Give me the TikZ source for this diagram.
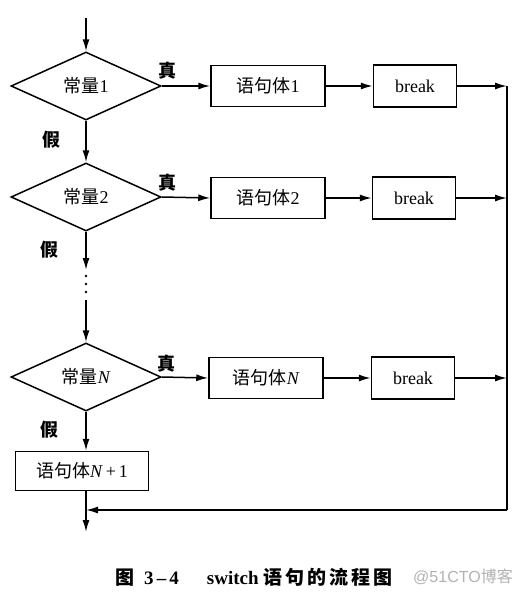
\documentclass[tikz,border=0pt]{standalone}
\usepackage{fontspec}
\setmainfont{Liberation Serif}
\newfontfamily\cjk{Noto Sans CJK SC}
\newfontfamily\wmfont{Liberation Sans}
\usetikzlibrary{shapes.geometric,arrows.meta}
\begin{document}
\begin{tikzpicture}[x=1pt,y=-1pt,
  line width=1.5pt,
  every node/.style={font=\fontsize{18}{20}\selectfont},
  dec/.style={diamond,draw,inner sep=0pt,minimum width=150pt,minimum height=68pt},
  stmt/.style={rectangle,draw,inner sep=0pt,minimum width=114pt,minimum height=41pt},
  brk/.style={rectangle,draw,inner sep=0pt,minimum width=83pt,minimum height=42pt},
  arr/.style={-{Latex[length=12pt,width=7pt]}},
  lbl/.style={font=\fontsize{18}{20}\selectfont\cjk\bfseries}]
\useasboundingbox (0,0) rectangle (522,592);
\fill[white] (0,0) rectangle (522,592);
% row 1
\coordinate (start) at (86,18);
\node[dec] (d1) at (86,86) {\cjk 常量\rmfamily 1};
\node[stmt] (b1) at (268,86) {\cjk 语句体\rmfamily 1};
\node[brk] (k1) at (415,86) {break};
\coordinate (r1) at (507,86);
% row 2
\node[dec] (d2) at (86,197) {\cjk 常量\rmfamily 2};
\node[stmt] (b2) at (268,198) {\cjk 语句体\rmfamily 2};
\node[brk] (k2) at (414,198) {break};
\coordinate (r2) at (507,198);
% dots
\coordinate (dotA) at (86,270);
\coordinate (dotB) at (86,300);
% row N
\node[dec] (dN) at (86,377) {\cjk 常量\rmfamily\itshape N};
\node[stmt] (bN) at (266,378) {\cjk 语句体\rmfamily\itshape N};
\node[brk] (kN) at (413,378) {break};
\coordinate (rN) at (507,378);
% N+1
\node[rectangle,draw,inner sep=0pt,minimum width=133pt,minimum height=39pt] (bN1) at (82,471)
  {\cjk 语句体\rmfamily\itshape N\/\upshape\,+\,1};
\coordinate (ret) at (507,510);
\coordinate (endp) at (86,532);
% connectors
\draw[arr] (start) -- (d1.north);
\draw[arr] (d1.east) -- (b1.west);
\draw[arr] (b1.east) -- (k1.west);
\draw[arr] (k1.east) -- (r1);
\draw[arr] (d1.south) -- (d2.north);
\draw[arr] (d2.east) -- (b2.west);
\draw[arr] (b2.east) -- (k2.west);
\draw[arr] (k2.east) -- (r2);
\draw[arr] (d2.south) -- (dotA);
\foreach \yy in {276,284,292} \fill (86,\yy) circle (1.3pt);
\draw[arr] (dotB) -- (dN.north);
\draw[arr] (dN.east) -- (bN.west);
\draw[arr] (bN.east) -- (kN.west);
\draw[arr] (kN.east) -- (rN);
\draw[arr] (dN.south) -- (dN.south |- bN1.north);
\draw (r1) -- (ret);
\draw[arr] (ret) -- (ret -| dN.south);
\draw[arr] (dN.south |- bN1.south) -- (endp);
% labels
\node[lbl] (t1) at (167,71) {真};
\node[lbl] (t2) at (167,183) {真};
\node[lbl] (t3) at (166,364) {真};
\node[lbl] (f1) at (51,140) {假};
\node[lbl] (f2) at (49,250) {假};
\node[lbl] (f3) at (49,430) {假};
% caption
\node[font=\fontsize{19}{21}\selectfont\bfseries] (cap) at (254,577)
  {{\cjk 图}\ \ 3\,–\,4\hspace{28pt}switch\ {\cjk 语\hspace{3pt}句\hspace{3pt}的\hspace{3pt}流\hspace{3pt}程\hspace{3pt}图}};
\node[font=\fontsize{16}{18}\selectfont\wmfont, text=black!30] (wm) at (463,577)
  {@51CTO{\cjk 博客}};
\end{tikzpicture}
\end{document}
